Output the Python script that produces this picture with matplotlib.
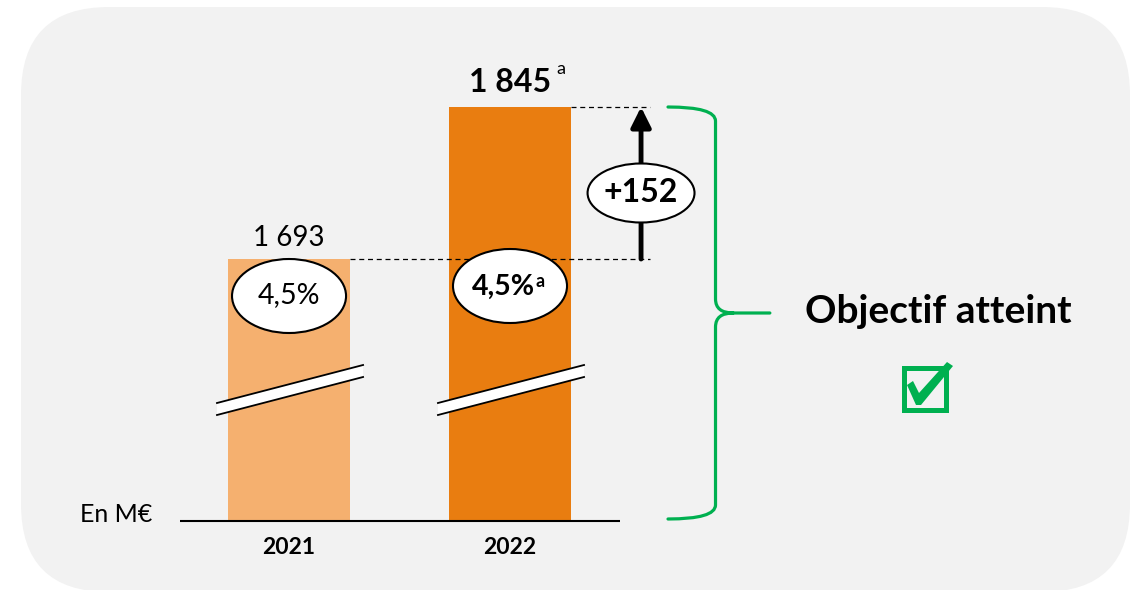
import matplotlib.pyplot as plt
from matplotlib.patches import FancyBboxPatch, Ellipse, Polygon, Rectangle, PathPatch
from matplotlib.path import Path

plt.rcParams['font.family'] = ['Lato', 'DejaVu Sans']

# Données (en M€)
years = ['2021', '2022']
values = [1693, 1845]
rates = ['4,5%', '4,5%']
bar_colors = ['#F5B06F', '#E97D10']
floor = 1431  # valeur au niveau de l'axe (axe coupé)

green = '#00B050'


def fmt(v):
    return f'{v:,}'.replace(',', ' ')


fig = plt.figure(figsize=(11.4, 5.9), dpi=100)

# Fond gris arrondi (coordonnées en pixels)
bg = fig.add_axes([0, 0, 1, 1])
bg.set_xlim(0, 1140)
bg.set_ylim(590, 0)
bg.axis('off')
bg.add_patch(FancyBboxPatch((21, 7), 1109, 585, boxstyle='round,pad=0,rounding_size=88',
                            fc='#F2F2F2', ec='none'))

# Axe principal
ax = fig.add_axes([0, 0, 1, 1])
ax.set_xlim(-1.308, 3.851)
ax.set_ylim(1362, 1952)
ax.axis('off')

x = list(range(len(years)))
heights = [v - floor for v in values]
bars = ax.bar(x, heights, bottom=floor, width=0.552, color=bar_colors, zorder=2)

# Ligne de base
ax.plot([-0.493, 1.498], [floor, floor], color='black', lw=1.5, zorder=3, solid_capstyle='butt')

# Marques de coupure
for xi in x:
    xl, xr = xi - 0.326, xi + 0.335
    yl, yr = floor + 112, floor + 150
    h = 12
    ax.add_patch(Polygon([(xl, yl - h / 2), (xr, yr - h / 2), (xr, yr + h / 2), (xl, yl + h / 2)],
                         closed=True, fc='white', ec='none', zorder=4))
    ax.plot([xl, xr], [yl - h / 2, yr - h / 2], color='black', lw=1.3, zorder=5)
    ax.plot([xl, xr], [yl + h / 2, yr + h / 2], color='black', lw=1.3, zorder=5)

# Étiquettes de valeur
ax.text(x[0], values[0] + 13, fmt(values[0]), ha='center', va='baseline', fontsize=20, zorder=6)
t = ax.text(x[1], values[1] + 15, fmt(values[1]), ha='center', va='baseline', fontsize=23,
            fontweight='bold', zorder=6)
ax.annotate('a', xy=(1, 1), xycoords=t, xytext=(4, 5), textcoords='offset points',
            ha='left', va='top', fontsize=13, zorder=6)

# Ellipses de taux
ell_y = [values[0] - 37, values[0] - 27]
for i, xi in enumerate(x):
    ax.add_patch(Ellipse((xi, ell_y[i]), 0.516, 74, fc='white', ec='black', lw=1.5, zorder=6))
ax.text(x[0], ell_y[0] - 7, rates[0], ha='center', va='baseline', fontsize=20.5, zorder=7)
t2 = ax.text(x[1] - 0.03, ell_y[1] - 9, rates[1], ha='center', va='baseline', fontsize=20.5,
             fontweight='bold', zorder=7)
ax.annotate('a', xy=(1, 1), xycoords=t2, xytext=(0.5, 1), textcoords='offset points',
            ha='left', va='top', fontsize=13, fontweight='bold', zorder=7)

# Lignes pointillées
x_end = 1.633
for xi, v in zip(x, values):
    ax.plot([xi + 0.276, x_end], [v, v], color='black', lw=0.9, ls=(0, (4, 3)), zorder=3)

# Flèche d'écart
xa = 1.593
ax.annotate('', xy=(xa, values[1]), xytext=(xa, values[0]),
            arrowprops=dict(arrowstyle='-|>,head_length=0.6,head_width=0.3', lw=3.5,
                            color='black', mutation_scale=20, shrinkA=0, shrinkB=0), zorder=5)
ax.add_patch(Ellipse((xa, 1759), 0.484, 59, fc='white', ec='black', lw=1.5, zorder=6))
ax.text(xa, 1750, f'+{values[1] - values[0]}', ha='center', va='baseline', fontsize=23,
        fontweight='bold', zorder=7)

# Accolade verte
x0, x1, x2 = 1.715, 1.93, 2.176
y_top, y_bot = values[1], floor + 2
y_mid = (y_top + y_bot) / 2
r = 14
verts = [(x0, y_top), (x1, y_top), (x1, y_top - r),
         (x1, y_mid + r), (x1, y_mid), (x1 + 0.08, y_mid),
         (x2, y_mid),
         (x1 + 0.08, y_mid), (x1, y_mid), (x1, y_mid - r),
         (x1, y_bot + r), (x1, y_bot), (x0, y_bot)]
codes = [Path.MOVETO, Path.CURVE3, Path.CURVE3,
         Path.LINETO, Path.CURVE3, Path.CURVE3,
         Path.LINETO,
         Path.MOVETO, Path.CURVE3, Path.CURVE3,
         Path.LINETO, Path.CURVE3, Path.CURVE3]
ax.add_patch(PathPatch(Path(verts, codes), fc='none', ec=green, lw=2.3, capstyle='round', zorder=3))

ax.text(2.937, y_mid - 10, 'Objectif atteint', ha='center', va='baseline', fontsize=28,
        fontweight='bold', zorder=6)

# Case cochée
bg.add_patch(Rectangle((903.5, 367.5), 42, 42, fill=False, ec=green, lw=3.6))
bg.add_patch(Polygon([(907, 385), (913, 381), (919, 393), (947, 362), (953, 366), (921, 405), (916, 405)],
                     closed=True, fc=green, ec='none'))

# Étiquettes d'axe
for xi, yr in zip(x, years):
    ax.text(xi, floor - 33, yr, ha='center', va='baseline', fontsize=16.5, fontweight='bold')
ax.text(-0.946, floor - 1, 'En M€', ha='left', va='baseline', fontsize=18)

fig.savefig('out.png', dpi=100)
